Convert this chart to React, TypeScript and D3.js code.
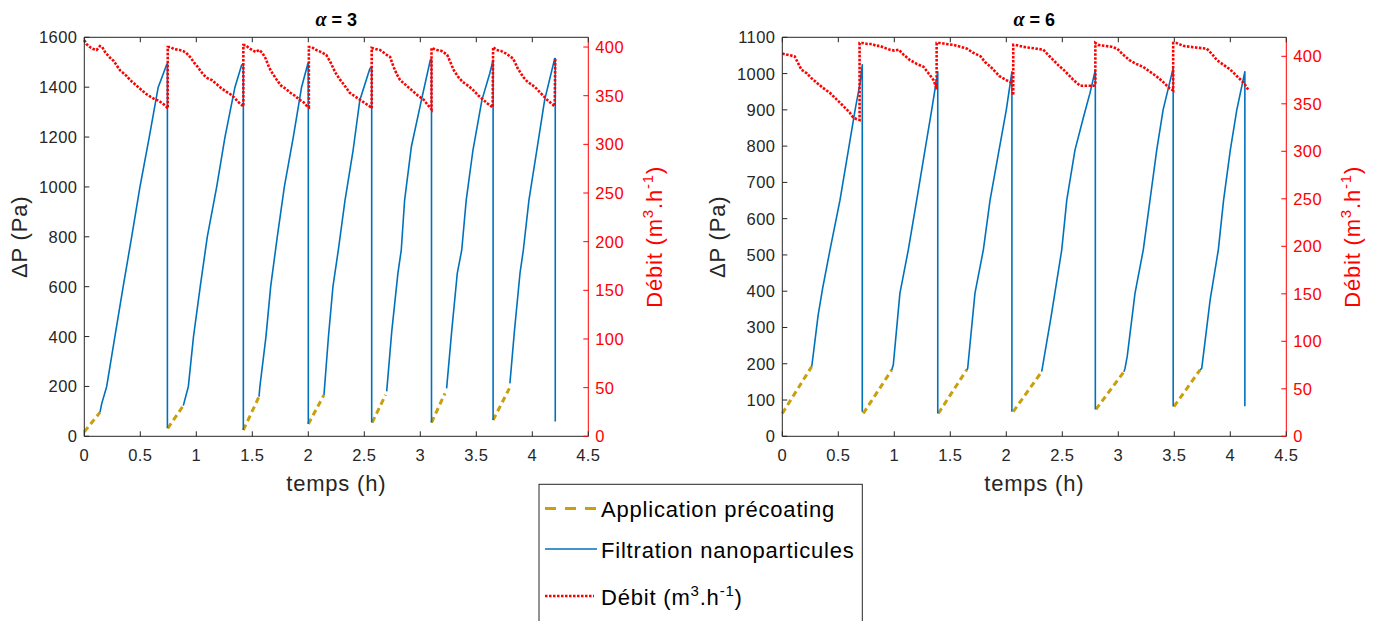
import React from 'react';
import * as d3 from 'd3';

type Pt = [number, number];

// ---------- α = 3 ----------
const a3Precoat: Pt[][] = [
  [[0, 18], [0.14, 96]],
  [[0.745, 32], [0.884, 123]],
  [[1.42, 25], [1.56, 159]],
  [[2.0, 49], [2.14, 166]],
  [[2.57, 55], [2.69, 166]],
  [[3.10, 55], [3.22, 172]],
  [[3.65, 65], [3.795, 192]],
];

const a3Filtration: Pt[][] = [
  [[0.14, 96], [0.155, 130], [0.2, 200], [0.273, 400], [0.347, 600], [0.423, 800], [0.497, 1000], [0.58, 1200], [0.66, 1400], [0.735, 1490], [0.742, 1495], [0.742, 32]],
  [[0.884, 123], [0.929, 200], [0.975, 400], [1.035, 600], [1.098, 800], [1.182, 1000], [1.256, 1200], [1.345, 1400], [1.405, 1489], [1.42, 1492], [1.42, 25]],
  [[1.56, 159], [1.568, 200], [1.622, 400], [1.664, 600], [1.723, 800], [1.786, 1000], [1.866, 1200], [1.94, 1400], [1.997, 1496], [2.0, 1496], [2.0, 49]],
  [[2.14, 166], [2.18, 400], [2.22, 600], [2.268, 747], [2.328, 947], [2.40, 1147], [2.46, 1348], [2.55, 1475], [2.566, 1482], [2.566, 55]],
  [[2.70, 180], [2.745, 420], [2.80, 653], [2.83, 747], [2.86, 947], [2.92, 1161], [3.01, 1348], [3.09, 1510], [3.10, 1512], [3.10, 55]],
  [[3.235, 192], [3.28, 420], [3.33, 653], [3.37, 747], [3.41, 947], [3.47, 1147], [3.55, 1348], [3.62, 1455], [3.65, 1509], [3.65, 65]],
  [[3.80, 212], [3.84, 420], [3.89, 653], [3.92, 747], [3.97, 947], [4.04, 1147], [4.11, 1348], [4.20, 1515], [4.205, 1515], [4.205, 59]],
];

const a3Debit: Pt[] = [
  [0, 407], [0.02, 403], [0.05, 400], [0.08, 398], [0.11, 397], [0.14, 401], [0.16, 400], [0.19, 394], [0.23, 389], [0.26, 386], [0.29, 381], [0.32, 376], [0.35, 373], [0.38, 370], [0.41, 366], [0.45, 362], [0.48, 359], [0.52, 355], [0.55, 352], [0.59, 349], [0.62, 347], [0.66, 345], [0.70, 342], [0.73, 339], [0.745, 337],
  [0.745, 400], [0.77, 400], [0.80, 398], [0.85, 397], [0.88, 396], [0.91, 394], [0.95, 389], [0.98, 384], [1.01, 380], [1.04, 375], [1.07, 371], [1.10, 368], [1.14, 366], [1.18, 362], [1.22, 358], [1.27, 354], [1.31, 351], [1.34, 348], [1.37, 344], [1.40, 341], [1.42, 339],
  [1.42, 402], [1.44, 402], [1.47, 399], [1.50, 397], [1.53, 395], [1.56, 397], [1.59, 394], [1.62, 388], [1.65, 379], [1.68, 373], [1.72, 366], [1.76, 360], [1.80, 357], [1.84, 353], [1.88, 350], [1.92, 346], [1.96, 343], [1.99, 339], [2.005, 338],
  [2.005, 400], [2.03, 400], [2.07, 397], [2.11, 395], [2.16, 392], [2.20, 384], [2.24, 374], [2.28, 367], [2.32, 361], [2.37, 353], [2.42, 349], [2.46, 346], [2.51, 342], [2.55, 339], [2.566, 337],
  [2.566, 399], [2.60, 398], [2.64, 397], [2.70, 392], [2.73, 390], [2.76, 380], [2.79, 372], [2.82, 366], [2.86, 362], [2.90, 358], [2.94, 354], [2.98, 350], [3.03, 346], [3.07, 340], [3.10, 336],
  [3.10, 399], [3.15, 397], [3.19, 396], [3.24, 392], [3.27, 384], [3.30, 376], [3.34, 369], [3.38, 364], [3.43, 360], [3.47, 356], [3.52, 350], [3.56, 346], [3.60, 342], [3.646, 338],
  [3.65, 400], [3.68, 397], [3.72, 396], [3.77, 393], [3.83, 388], [3.87, 378], [3.92, 369], [3.96, 364], [4.00, 361], [4.04, 357], [4.08, 352], [4.13, 346], [4.17, 342], [4.20, 339], [4.205, 388],
];

// ---------- α = 6 ----------
const a6Precoat: Pt[][] = [
  [[0, 63], [0.262, 192]],
  [[0.723, 63], [0.977, 183]],
  [[1.393, 63], [1.646, 183]],
  [[2.062, 68], [2.316, 178]],
  [[2.80, 74], [3.05, 178]],
  [[3.497, 82], [3.73, 183]],
];

const a6Filtration: Pt[][] = [
  [[0.262, 192], [0.265, 197], [0.32, 334], [0.36, 408], [0.426, 514], [0.515, 651], [0.59, 789], [0.65, 900], [0.694, 973], [0.714, 1024], [0.714, 68]],
  [[0.977, 183], [0.991, 197], [1.05, 394], [1.125, 514], [1.2, 651], [1.274, 789], [1.334, 900], [1.388, 1005], [1.388, 63]],
  [[1.646, 183], [1.655, 187], [1.72, 394], [1.795, 514], [1.855, 651], [1.93, 780], [2.0, 900], [2.05, 1005], [2.05, 68]],
  [[2.316, 178], [2.40, 330], [2.495, 514], [2.54, 651], [2.613, 789], [2.69, 881], [2.747, 946], [2.795, 1010], [2.795, 74]],
  [[3.05, 178], [3.06, 187], [3.08, 221], [3.149, 394], [3.223, 514], [3.283, 651], [3.343, 789], [3.40, 900], [3.49, 1015], [3.49, 82]],
  [[3.73, 183], [3.745, 187], [3.82, 376], [3.893, 514], [3.94, 651], [4.0, 789], [4.058, 900], [4.13, 1005], [4.13, 83]],
];

const a6Debit: Pt[] = [
  [0, 403], [0.03, 402], [0.07, 401], [0.11, 400], [0.14, 393], [0.17, 386], [0.22, 382], [0.26, 377], [0.31, 372], [0.36, 367], [0.43, 361], [0.49, 354], [0.55, 347], [0.60, 341], [0.63, 336], [0.66, 334], [0.69, 333],
  [0.69, 414], [0.72, 414], [0.76, 413], [0.80, 413], [0.84, 411], [0.87, 411], [0.91, 409], [0.96, 407], [1.00, 406], [1.04, 407], [1.08, 402], [1.14, 396], [1.20, 392], [1.26, 389], [1.30, 383], [1.35, 375], [1.372, 368], [1.378, 365],
  [1.378, 414], [1.41, 414], [1.46, 413], [1.53, 412], [1.59, 410], [1.65, 408], [1.70, 404], [1.77, 400], [1.81, 394], [1.86, 389], [1.90, 384], [1.94, 379], [2.00, 375], [2.05, 372], [2.062, 359],
  [2.062, 412], [2.08, 412], [2.15, 410], [2.21, 409], [2.27, 408], [2.33, 407], [2.37, 402], [2.42, 396], [2.47, 390], [2.51, 386], [2.56, 380], [2.60, 375], [2.66, 369], [2.72, 369], [2.78, 369], [2.795, 370],
  [2.795, 414], [2.82, 412], [2.88, 411], [2.94, 410], [2.99, 408], [3.04, 402], [3.10, 396], [3.16, 392], [3.22, 389], [3.28, 384], [3.34, 379], [3.40, 373], [3.46, 366], [3.49, 364],
  [3.49, 414], [3.52, 414], [3.58, 411], [3.64, 410], [3.71, 409], [3.79, 408], [3.84, 402], [3.88, 396], [3.94, 391], [4.00, 386], [4.06, 379], [4.12, 372], [4.16, 365],
];

// ---------- ticks / labels ----------
const xTicks = [0, 0.5, 1, 1.5, 2, 2.5, 3, 3.5, 4, 4.5];
const a3PTicks = [0, 200, 400, 600, 800, 1000, 1200, 1400, 1600];
const a6PTicks = [0, 100, 200, 300, 400, 500, 600, 700, 800, 900, 1000, 1100];
const debitTicks = [0, 50, 100, 150, 200, 250, 300, 350, 400];
const alphaValues = ['3', '6'];
const legendLabels = ['Application précoating', 'Filtration nanoparticules', 'Débit'];

const AX = '#262626';
const BLUE = '#0072BD';
const GOLD = '#C9A00C';
const RED = '#FF0000';
const FONT = '"Liberation Sans", Arial, Helvetica, sans-serif';

const TOP = 37.3;
const BOTTOM = 436.3;
const PW = 504;

type PanelProps = {
  left: number;
  alpha: string;
  precoat: Pt[][];
  filtration: Pt[][];
  debit: Pt[];
  pMax: number;
  pTicks: number[];
  qMax: number;
};

function DebitLabel({ x, y }: { x: number; y: number }) {
  return (
    <text
      transform={`translate(${x},${y}) rotate(-90)`}
      textAnchor="middle"
      fill={RED}
      fontSize={22}
      letterSpacing={0.8}
      fontFamily={FONT}
    >
      Débit (m<tspan dy={-9} fontSize={15}>3</tspan>
      <tspan dy={9}>.h</tspan>
      <tspan dy={-9} fontSize={15}>-1</tspan>
      <tspan dy={9}>)</tspan>
    </text>
  );
}

function Panel({ left, alpha, precoat, filtration, debit, pMax, pTicks, qMax }: PanelProps) {
  const right = left + PW;
  const x = d3.scaleLinear().domain([0, 4.5]).range([left, right]);
  const yP = d3.scaleLinear().domain([0, pMax]).range([BOTTOM, TOP]);
  const yQ = d3.scaleLinear().domain([0, qMax]).range([BOTTOM, TOP]);
  const lineP = d3.line<Pt>().x((d) => x(d[0])).y((d) => yP(d[1]));
  const lineQ = d3.line<Pt>().x((d) => x(d[0])).y((d) => yQ(d[1]));
  const cx = (left + right) / 2;
  const cy = (TOP + BOTTOM) / 2;
  const tl = 5;
  return (
    <g>
      {/* data */}
      {precoat.map((seg, i) => (
        <path key={'p' + i} d={lineP(seg) || ''} fill="none" stroke={GOLD} strokeWidth={3} strokeDasharray="6 4" />
      ))}
      {filtration.map((seg, i) => (
        <path key={'f' + i} d={lineP(seg) || ''} fill="none" stroke={BLUE} strokeWidth={1.6} strokeLinejoin="round" />
      ))}
      <path d={lineQ(debit) || ''} fill="none" stroke={RED} strokeWidth={2.6} strokeDasharray="2.5 1.5" />

      {/* box / axes */}
      <line x1={left} x2={right} y1={TOP} y2={TOP} stroke={AX} strokeWidth={1} />
      <line x1={left} x2={right} y1={BOTTOM} y2={BOTTOM} stroke={AX} strokeWidth={1} />
      <line x1={left} x2={left} y1={TOP} y2={BOTTOM} stroke={AX} strokeWidth={1} />
      <line x1={right} x2={right} y1={TOP} y2={BOTTOM} stroke={RED} strokeWidth={1} />

      {xTicks.map((t) => (
        <g key={'x' + t}>
          <line x1={x(t)} x2={x(t)} y1={BOTTOM} y2={BOTTOM - tl} stroke={AX} />
          <line x1={x(t)} x2={x(t)} y1={TOP} y2={TOP + tl} stroke={AX} />
          <text x={x(t)} y={BOTTOM + 25} textAnchor="middle" fontSize={16.5} letterSpacing={0.4} fill={AX} fontFamily={FONT}>
            {String(t)}
          </text>
        </g>
      ))}
      {pTicks.map((p) => (
        <g key={'y' + p}>
          <line x1={left} x2={left + tl} y1={yP(p)} y2={yP(p)} stroke={AX} />
          <text x={left - 7} y={yP(p) + 6} textAnchor="end" fontSize={16.5} letterSpacing={0.4} fill={AX} fontFamily={FONT}>
            {String(p)}
          </text>
        </g>
      ))}
      {debitTicks.map((q) => (
        <g key={'q' + q}>
          <line x1={right} x2={right - tl} y1={yQ(q)} y2={yQ(q)} stroke={RED} />
          <text x={right + 7} y={yQ(q) + 6} textAnchor="start" fontSize={16.5} letterSpacing={0.4} fill={RED} fontFamily={FONT}>
            {String(q)}
          </text>
        </g>
      ))}

      {/* title */}
      <text x={cx} y={26} textAnchor="middle" fontSize={18} fontWeight="bold" fill="#000" fontFamily={FONT}>
        <tspan fontFamily='"Liberation Serif", "DejaVu Serif", serif' fontStyle="italic" fontSize={20}>α</tspan>
        {' = ' + alpha}
      </text>

      {/* axis labels */}
      <text x={cx} y={491} textAnchor="middle" fontSize={22} letterSpacing={0.8} fill={AX} fontFamily={FONT}>
        temps (h)
      </text>
      <text transform={`translate(${left - 57},${cy}) rotate(-90)`} textAnchor="middle" fontSize={22} letterSpacing={0.8} fill={AX} fontFamily={FONT}>
        ΔP (Pa)
      </text>
      <DebitLabel x={right + 74} y={cy} />
    </g>
  );
}

export default function App() {
  const lx = 545;
  const lx2 = 597;
  const tx = 601;
  const rows = [508.5, 549, 596];
  return (
    <svg width={1376} height={621} style={{ position: 'absolute', left: 0, top: 0, background: '#fff' }}>
      <rect x={0} y={0} width={1376} height={621} fill="#fff" />
      <Panel left={84.3} alpha={alphaValues[0]} precoat={a3Precoat} filtration={a3Filtration} debit={a3Debit} pMax={1600} pTicks={a3PTicks} qMax={410} />
      <Panel left={782.3} alpha={alphaValues[1]} precoat={a6Precoat} filtration={a6Filtration} debit={a6Debit} pMax={1100} pTicks={a6PTicks} qMax={420} />

      {/* legend */}
      <rect x={539} y={484.3} width={323.3} height={200} fill="#fff" stroke={AX} strokeWidth={1} />
      <line x1={lx} x2={lx2} y1={rows[0]} y2={rows[0]} stroke={GOLD} strokeWidth={3} strokeDasharray="11 9" />
      <line x1={lx} x2={lx2} y1={rows[1]} y2={rows[1]} stroke={BLUE} strokeWidth={1.6} />
      <line x1={lx} x2={594} y1={rows[2]} y2={rows[2]} stroke={RED} strokeWidth={2.6} strokeDasharray="2.5 1.5" />
      <text x={tx} y={rows[0] + 8} fontSize={22} letterSpacing={0.8} fill="#000" fontFamily={FONT}>{legendLabels[0]}</text>
      <text x={tx} y={rows[1] + 8.5} fontSize={22} letterSpacing={0.8} fill="#000" fontFamily={FONT}>{legendLabels[1]}</text>
      <text x={tx} y={rows[2] + 9} fontSize={22} letterSpacing={0.8} fill="#000" fontFamily={FONT}>
        {legendLabels[2]} (m<tspan dy={-9} fontSize={15}>3</tspan>
        <tspan dy={9}>.h</tspan>
        <tspan dy={-9} fontSize={15}>-1</tspan>
        <tspan dy={9}>)</tspan>
      </text>
    </svg>
  );
}
